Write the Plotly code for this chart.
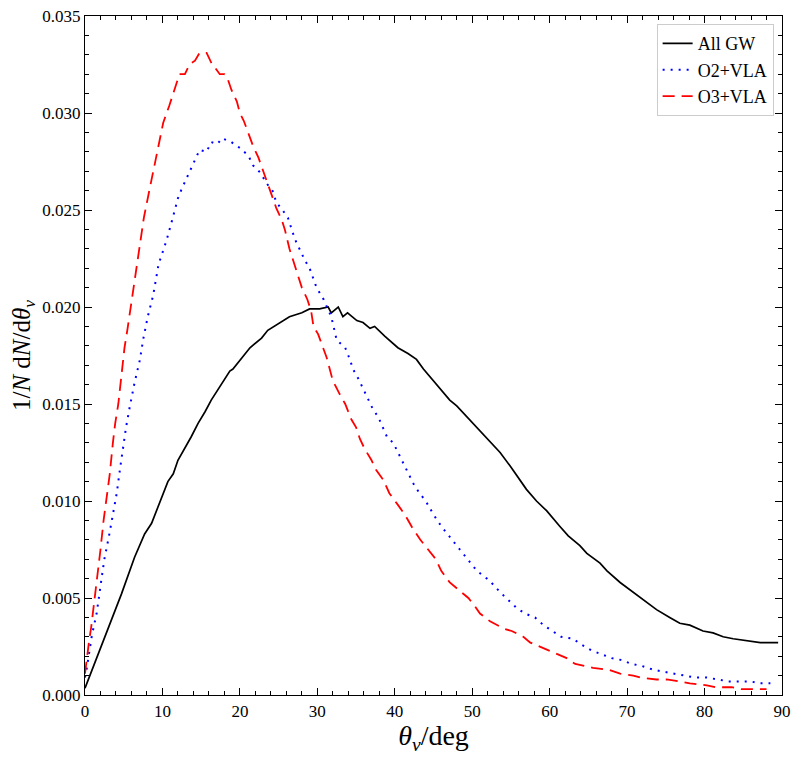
import plotly.graph_objects as go

# ---- data ----
theta_all = [0, 1.9, 3.6, 4.7, 6.4, 7.7, 8.6, 10.7, 11.4, 12.0, 13.7, 14.6, 15.5, 16.3, 18.7, 19.1,
             21.3, 22.8, 23.6, 25.2, 26.4, 28.0, 29.0, 30.3, 31.4, 31.8, 32.7, 33.3, 33.9, 35.1, 35.9,
             36.8, 37.4, 38.7, 40.4, 41.7, 42.8, 43.7, 44.8, 46.3, 47.1, 48.0, 50.1, 51.9, 53.6, 54.9,
             57.0, 58.3, 59.6, 61.3, 62.4, 63.9, 64.8, 66.5, 67.4, 69.1, 70.4, 72.1, 73.8, 75.5, 76.8,
             78.1, 79.8, 81.1, 82.4, 83.7, 85.4, 87.2, 88.0, 89.5]
all_gw = [0.00035, 0.0023, 0.0040, 0.0052, 0.0071, 0.0083, 0.00885, 0.0110, 0.0114, 0.0121, 0.0133,
          0.0140, 0.0146, 0.0152, 0.0167, 0.0168, 0.0179, 0.0184, 0.0188, 0.0192, 0.0195, 0.0197,
          0.0199, 0.0199, 0.0200, 0.0197, 0.0200, 0.0195, 0.0197, 0.0193, 0.0192, 0.0189, 0.0190,
          0.0185, 0.0179, 0.0176, 0.0173, 0.0168, 0.0163, 0.0156, 0.0152, 0.0149, 0.0140, 0.0132,
          0.0125, 0.0118, 0.0106, 0.0100, 0.0095, 0.0087, 0.0082, 0.0077, 0.0073, 0.0068, 0.0064,
          0.0058, 0.0054, 0.0049, 0.0044, 0.0040, 0.0037, 0.0036, 0.0033, 0.0032, 0.0030, 0.0029,
          0.0028, 0.0027, 0.0027, 0.0027]

theta_o2 = [0, 0.2, 0.9, 1.5, 2.1, 2.5, 3.1, 3.6, 4.1, 4.5, 4.9, 5.3, 5.8, 6.4, 7.1, 7.5, 8.1, 8.8,
            9.5, 10.5, 11.2, 12.0, 12.5, 13.1, 13.7, 14.8, 15.7, 16.3, 17.1, 17.7, 18.9, 20.0, 21.1,
            21.7, 22.7, 23.4, 24.2, 24.7, 25.5, 26.2, 27.1, 27.7, 28.4, 29.0, 29.9, 30.8, 31.8, 32.5,
            33.6, 34.2, 34.6, 35.3, 35.9, 36.6, 37.1, 37.9, 38.5, 39.0, 39.8, 40.4, 41.1, 41.7, 42.4,
            43.2, 44.0, 45.0, 46.0, 47.0, 48.0, 49.0, 49.7, 50.6, 51.9, 52.7, 53.6, 54.7, 55.7, 56.8,
            58.1, 59.2, 60.3, 61.5, 63.0, 64.1, 65.4, 66.7, 68.0, 69.3, 70.6, 71.9, 73.4, 74.7, 76.0,
            77.5, 78.8, 80.3, 81.6, 83.1, 84.4, 85.9, 87.2, 88.5]
o2_vla = [0.0009, 0.0013, 0.0031, 0.0042, 0.0059, 0.0070, 0.0082, 0.0094, 0.0104, 0.0116, 0.0127,
          0.0138, 0.0149, 0.0161, 0.0173, 0.0183, 0.0195, 0.0206, 0.0222, 0.0234, 0.0244, 0.0256,
          0.0261, 0.0266, 0.0271, 0.0281, 0.0280, 0.0285, 0.0284, 0.0287, 0.0285, 0.0282, 0.0278,
          0.0273, 0.0269, 0.0264, 0.0260, 0.0254, 0.0250, 0.0246, 0.0235, 0.0230, 0.0224, 0.0220,
          0.0210, 0.0204, 0.0195, 0.0183, 0.0179, 0.0173, 0.0168, 0.0163, 0.0158, 0.0153, 0.0148,
          0.0143, 0.0138, 0.0133, 0.0130, 0.0125, 0.0119, 0.0114, 0.0109, 0.0104, 0.0100, 0.0093,
          0.0087, 0.0082, 0.0077, 0.0072, 0.0069, 0.0064, 0.0060, 0.0057, 0.0053, 0.0049, 0.0045,
          0.0042, 0.0040, 0.0036, 0.0033, 0.0030, 0.0029, 0.0026, 0.0023, 0.0021, 0.0019, 0.0018,
          0.0016, 0.0015, 0.0013, 0.0012, 0.0011, 0.0010, 0.0009, 0.0009, 0.0008, 0.0007, 0.0007,
          0.0007, 0.0006, 0.0006]

theta_o3 = [0, 0.1, 0.5, 0.8, 1.3, 1.7, 2.0, 2.4, 2.8, 3.2, 3.6, 3.9, 4.3, 4.7, 5.1, 5.5, 6.0, 6.6,
            7.1, 7.6, 8.2, 8.8, 9.4, 10.1, 10.9, 11.6, 12.2, 12.9, 13.5, 14.2, 14.8, 15.7, 16.3, 17.4,
            18.0, 18.3, 18.9, 19.6, 20.0, 20.5, 21.1, 21.7, 22.4, 23.0, 23.6, 24.1, 24.7, 25.4, 25.8,
            26.4, 26.9, 27.5, 28.0, 28.7, 29.2, 29.5, 30.1, 31.2, 32.0, 32.9, 33.6, 34.4, 35.0, 35.5,
            36.1, 37.0, 37.6, 38.5, 39.3, 40.4, 41.3, 42.3, 43.3, 44.3, 45.3, 46.0, 47.1, 48.0, 49.5,
            50.3, 51.0, 52.3, 54.2, 55.1, 56.6, 57.5, 59.2, 60.5, 62.2, 63.3, 64.6, 65.6, 67.6, 69.1,
            70.8, 71.7, 73.8, 75.1, 76.8, 78.1, 80.3, 81.4, 83.5, 84.8, 86.7, 88.0]
o3_vla = [0.0011, 0.0015, 0.0027, 0.0035, 0.0051, 0.0064, 0.0075, 0.0090, 0.0102, 0.0114, 0.0130,
          0.0140, 0.0150, 0.0164, 0.0179, 0.0189, 0.0202, 0.0219, 0.0233, 0.0246, 0.0258, 0.0270,
          0.0282, 0.0295, 0.0304, 0.0313, 0.0320, 0.0320, 0.0325, 0.0327, 0.0331, 0.0331, 0.0326,
          0.0320, 0.0320, 0.0319, 0.0312, 0.0306, 0.0300, 0.0296, 0.0289, 0.0283, 0.0277, 0.0270,
          0.0264, 0.0258, 0.0251, 0.0245, 0.0240, 0.0230, 0.0224, 0.0217, 0.0210, 0.0204, 0.0198,
          0.0190, 0.0186, 0.0174, 0.0162, 0.0155, 0.0150, 0.0142, 0.0138, 0.0132, 0.0127, 0.0121,
          0.0116, 0.0111, 0.0104, 0.0098, 0.0093, 0.0086, 0.0080, 0.0075, 0.0070, 0.0064, 0.0058,
          0.0055, 0.0050, 0.0046, 0.0042, 0.0038, 0.0034, 0.0033, 0.0030, 0.0027, 0.0024, 0.0022,
          0.0019, 0.0016, 0.0015, 0.0014, 0.0013, 0.0011, 0.0010, 0.0009, 0.0008, 0.0008, 0.0007,
          0.0006, 0.0005, 0.0004, 0.0004, 0.0003, 0.0003, 0.0003]

x_ticks = [0, 10, 20, 30, 40, 50, 60, 70, 80, 90]
y_ticks = [0.000, 0.005, 0.010, 0.015, 0.020, 0.025, 0.030, 0.035]

FONT = "Liberation Serif, DejaVu Serif, serif"

fig = go.Figure()
fig.add_trace(go.Scatter(x=theta_all, y=all_gw, mode="lines", name="All GW",
                         line=dict(color="black", width=1.7)))
fig.add_trace(go.Scatter(x=theta_o2, y=o2_vla, mode="lines", name="O2+VLA",
                         line=dict(color="blue", width=2, dash="2px,6px")))
fig.add_trace(go.Scatter(x=theta_o3, y=o3_vla, mode="lines", name="O3+VLA",
                         line=dict(color="red", width=1.8, dash="12px,7px")))

axis_common = dict(
    showgrid=False, zeroline=False, showline=True, linecolor="black", linewidth=1.2,
    mirror="allticks", ticks="inside", ticklen=7, tickwidth=1, tickcolor="black",
    tickfont=dict(family=FONT, size=17, color="black"), automargin=False,
    ticklabeloverflow="allow",
)

fig.update_xaxes(
    range=[-0.0001, 90.0001], tickvals=x_ticks, ticktext=[str(v) for v in x_ticks],
    minor=dict(ticks="inside", ticklen=4, tickcolor="black", dtick=2, tick0=0, showgrid=False),
    title=dict(text="<i>θ<sub>v</sub></i>/deg", font=dict(family=FONT, size=28, color="black")),
    **axis_common,
)
fig.update_yaxes(
    range=[-1e-8, 0.03500001], tickvals=y_ticks, ticktext=[f"{v:.3f}" for v in y_ticks],
    minor=dict(ticks="inside", ticklen=4, tickcolor="black", dtick=0.001, tick0=0, showgrid=False),
    title=dict(text="1/<i>N</i> d<i>N</i>/d<i>θ<sub>v</sub></i>",
               font=dict(family=FONT, size=25, color="black")),
    **axis_common,
)

fig.update_layout(
    width=785, height=747,
    margin=dict(l=77, r=11, t=8, b=60),
    paper_bgcolor="white", plot_bgcolor="white",
    font=dict(family=FONT, color="black"),
    showlegend=True,
    legend=dict(x=0.988, y=0.988, xanchor="right", yanchor="top",
                bgcolor="rgba(255,255,255,0.8)", bordercolor="#cccccc", borderwidth=1,
                font=dict(family=FONT, size=18, color="black"),
                tracegroupgap=0),
)

fig.write_html("out.html")
